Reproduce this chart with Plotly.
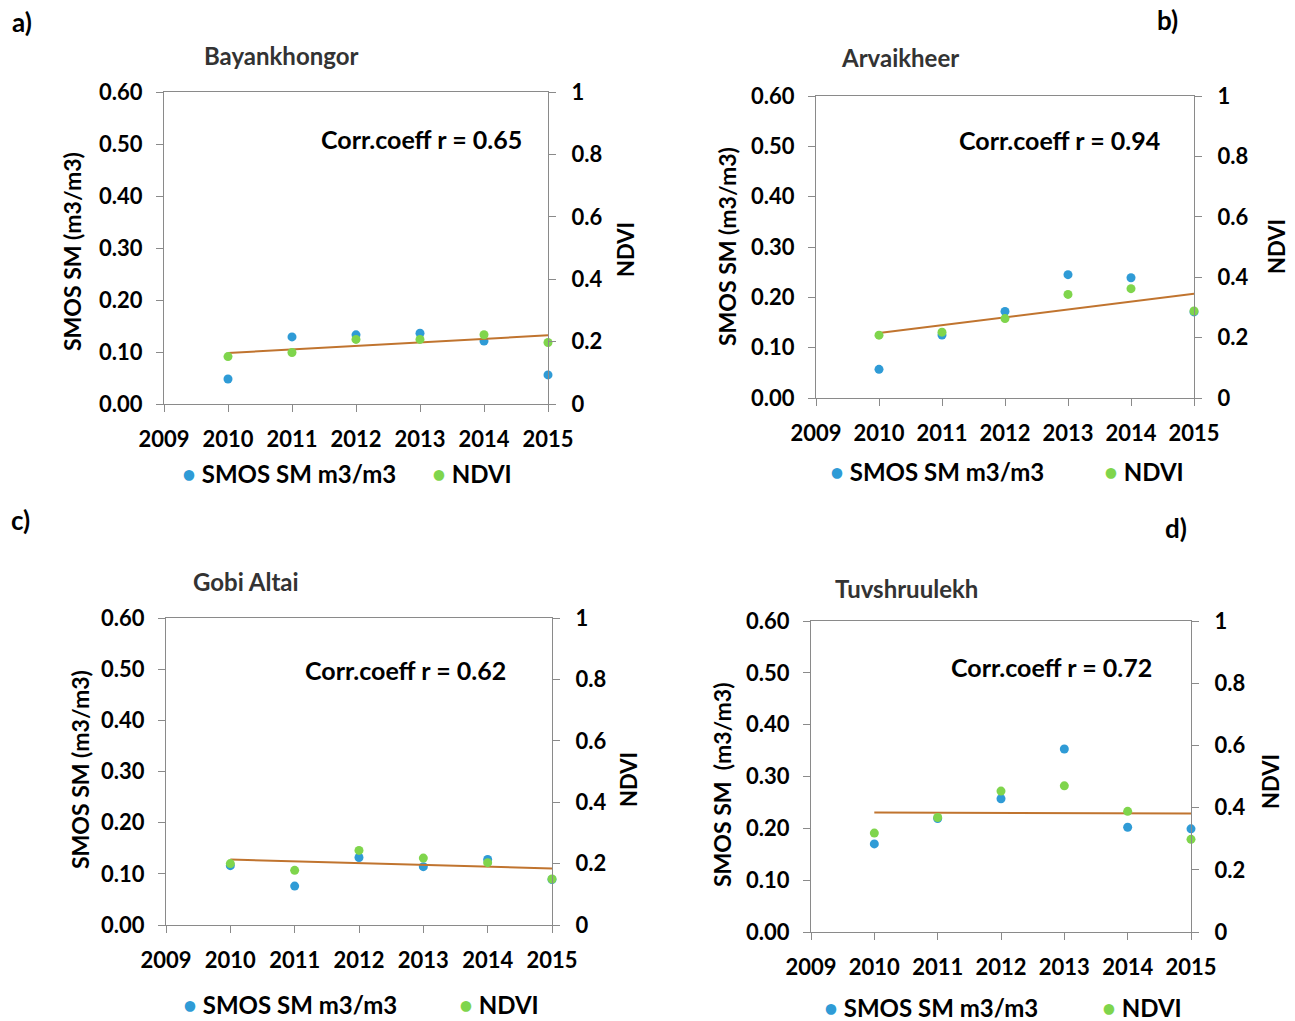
import numpy as np
import plotly.graph_objects as go

W, H = 1295, 1021

years = [2010, 2011, 2012, 2013, 2014, 2015]
year_ticks = [2009, 2010, 2011, 2012, 2013, 2014, 2015]
sm_ticks = [0.0, 0.1, 0.2, 0.3, 0.4, 0.5, 0.6]
ndvi_ticks = [0, 0.2, 0.4, 0.6, 0.8, 1]

names = ["Bayankhongor", "Arvaikheer", "Gobi Altai", "Tuvshruulekh"]
letters = ["a)", "b)", "c)", "d)"]
corr_r = ["0.65", "0.94", "0.62", "0.72"]

a_sm = [0.048, 0.129, 0.133, 0.136, 0.121, 0.056]
a_ndvi = [0.152, 0.165, 0.207, 0.207, 0.222, 0.197]
b_sm = [0.057, 0.125, 0.172, 0.245, 0.239, 0.171]
b_ndvi = [0.208, 0.218, 0.263, 0.343, 0.362, 0.288]
c_sm = [0.116, 0.076, 0.132, 0.114, 0.128, 0.089]
c_ndvi = [0.200, 0.178, 0.243, 0.218, 0.203, 0.150]
d_sm = [0.170, 0.219, 0.257, 0.353, 0.202, 0.199]
d_ndvi = [0.318, 0.368, 0.453, 0.470, 0.388, 0.298]

sm_series = [a_sm, b_sm, c_sm, d_sm]
ndvi_series = [a_ndvi, b_ndvi, c_ndvi, d_ndvi]

# layout (pixel boxes of the plot areas)
boxes = [
    dict(x0=164, x1=548, y0=92, y1=404, title=(281, 55), corr=(421, 139), sm_lab=(72, 252),
         nd_lab=(625, 250), leg_y=474, leg1=180, leg2=430, letter=(22, 22)),
    dict(x0=816, x1=1194, y0=96, y1=398, title=(900, 58), corr=(1059, 140), sm_lab=(727, 247),
         nd_lab=(1277, 247), leg_y=471, leg1=828, leg2=1102, letter=(1167, 20)),
    dict(x0=166, x1=552, y0=618, y1=925, title=(246, 581), corr=(405, 670), sm_lab=(80, 770),
         nd_lab=(628, 780), leg_y=1004, leg1=181, leg2=457, letter=(20, 520)),
    dict(x0=811, x1=1191, y0=621, y1=932, title=(906, 588), corr=(1051, 667), sm_lab=(722, 785),
         nd_lab=(1270, 782), leg_y=1007, leg1=822, leg2=1100, letter=(1176, 528)),
]

FONT = "Lato"
BLUE = "#2f9bd6"
GREEN = "#7fd54c"
TREND = "#c0742f"
AXC = "#8a8a8a"


def px(x):
    return x / W


def py(y):
    return 1 - y / H


fig = go.Figure()
annotations = []
layout = {}

for i in range(4):
    b = boxes[i]
    xa = "x" if i == 0 else f"x{i + 1}"
    ya_l = f"y{2 * i + 1}" if i > 0 else "y"
    ya_r = f"y{2 * i + 2}"
    xkey = "xaxis" if i == 0 else f"xaxis{i + 1}"
    ylkey = "yaxis" if i == 0 else f"yaxis{2 * i + 1}"
    yrkey = f"yaxis{2 * i + 2}"

    sm = sm_series[i]
    nd = ndvi_series[i]
    coef = np.polyfit(years, nd, 1)
    trend_x = [years[0], years[-1]]
    trend_y = list(np.polyval(coef, trend_x))

    fig.add_trace(go.Scatter(x=years, y=sm, mode="markers", xaxis=xa, yaxis=ya_l,
                             marker=dict(color=BLUE, size=9), cliponaxis=False,
                             name="SMOS SM m3/m3", showlegend=False))
    fig.add_trace(go.Scatter(x=trend_x, y=trend_y, mode="lines", xaxis=xa, yaxis=ya_r,
                             line=dict(color=TREND, width=2), cliponaxis=False,
                             name="Linear (NDVI)", showlegend=False))
    fig.add_trace(go.Scatter(x=years, y=nd, mode="markers", xaxis=xa, yaxis=ya_r,
                             marker=dict(color=GREEN, size=9), cliponaxis=False,
                             name="NDVI", showlegend=False))

    tickfont = dict(family=FONT, size=22, color="black", weight="bold")
    common = dict(showgrid=False, zeroline=False, automargin=False, tickfont=tickfont,
                  showline=True, linecolor=AXC, linewidth=1.3,
                  ticks="outside", ticklen=7, tickcolor=AXC, tickwidth=1.3)
    layout[xkey] = dict(
        domain=[px(b["x0"]), px(b["x1"])], anchor=ya_l, range=[2009, 2015],
        tickvals=year_ticks, ticktext=[str(t) for t in year_ticks],
        mirror=True, ticklabelstandoff=8, **common,
    )
    layout[ylkey] = dict(
        domain=[py(b["y1"]), py(b["y0"])], anchor=xa, range=[0, 0.6],
        tickvals=sm_ticks, ticktext=[f"{t:.2f}" for t in sm_ticks],
        ticklabelstandoff=9, **common,
    )
    layout[yrkey] = dict(
        overlaying=ya_l, anchor=xa, side="right", range=[0, 1],
        tickvals=ndvi_ticks, ticktext=[f"{t:g}" for t in ndvi_ticks],
        ticklabelstandoff=11, **common,
    )

    def ann(x, y, text, size=21, color="black", xanchor="center", angle=0):
        annotations.append(dict(x=px(x), y=py(y), xref="paper", yref="paper", text=text,
                                showarrow=False, xanchor=xanchor, yanchor="middle",
                                textangle=angle,
                                font=dict(family=FONT, size=size, color=color, weight="bold")))

    ann(b["title"][0], b["title"][1], names[i], size=24, color="#333333")
    ann(b["corr"][0], b["corr"][1], f"Corr.coeff r = {corr_r[i]}", size=25)
    sm_title = "SMOS SM  (m3/m3)" if i == 3 else "SMOS SM (m3/m3)"
    ann(b["sm_lab"][0], b["sm_lab"][1], sm_title, size=23, angle=-90)
    ann(b["nd_lab"][0], b["nd_lab"][1], "NDVI", size=22, angle=-90)
    ann(b["letter"][0], b["letter"][1], letters[i], size=26)
    ann(b["leg1"], b["leg_y"], f"<span style='color:{BLUE}'>•</span> SMOS SM m3/m3",
        size=24, xanchor="left")
    ann(b["leg2"], b["leg_y"], f"<span style='color:{GREEN}'>•</span> NDVI",
        size=24, xanchor="left")

fig.update_layout(
    template="none",
    width=W, height=H, margin=dict(l=0, r=0, t=0, b=0, autoexpand=False),
    paper_bgcolor="white", plot_bgcolor="white",
    annotations=annotations, showlegend=False,
    font=dict(family=FONT),
    **layout,
)

fig.write_html(
    "out.html",
    config={"displayModeBar": False},
    post_script="document.body.style.margin='0px';document.body.style.overflow='hidden';",
)
